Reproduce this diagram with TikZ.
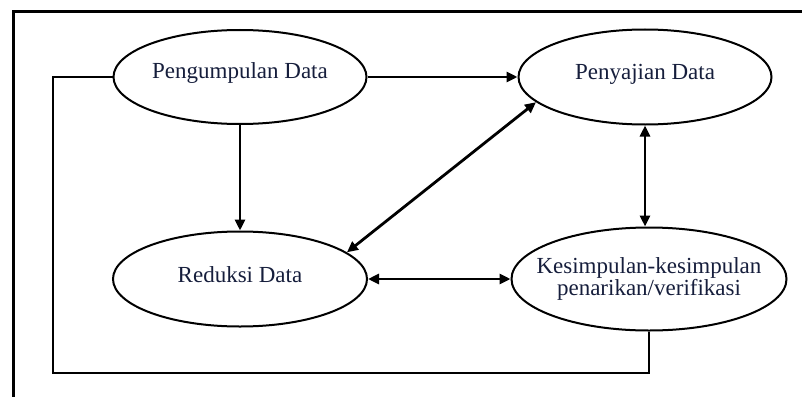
\documentclass[tikz,border=0pt]{standalone}
\usepackage{fontspec}
\setmainfont{Liberation Serif}
\usetikzlibrary{shapes.geometric,arrows.meta}
\definecolor{txtcol}{RGB}{22,30,60}
\tikzset{
  ell/.style={draw=black, line width=2pt, ellipse, inner sep=0pt},
  txt/.style={text=txtcol, font=\fontsize{23}{20}\selectfont, align=center, inner sep=0pt},
  conn/.style={line width=2.8pt},
  tip/.style={-{Triangle[length=11pt,width=10pt]}},
  tips/.style={{Triangle[length=11pt,width=10pt]}-{Triangle[length=11pt,width=10pt]}},
  frame/.style={line width=3pt, line cap=rect}
}
\begin{document}
\begin{tikzpicture}[x=1pt,y=-1pt]
\useasboundingbox (0,0) rectangle (802,396);
% outer frame (top and left only)
\coordinate (ftr) at (802,12);
\coordinate (fcorner) at (13,12);
\coordinate (fbot) at (13,396);
\draw[frame] (ftr) -- (fcorner) -- (fbot);
% ellipses
\node[ell, minimum width=253pt, minimum height=94pt] (p) at (240,77) {};
\node[txt] (pt) at (240,73) {Pengumpulan Data};
\node[ell, minimum width=253pt, minimum height=95pt] (s) at (645,77) {};
\node[txt] (st) at (645,74) {Penyajian Data};
\node[ell, minimum width=254pt, minimum height=95pt] (r) at (240,279) {};
\node[txt] (rt) at (240,275) {Reduksi Data};
\node[ell, minimum width=275pt, minimum height=103pt] (k) at (649,279) {};
\node[txt] (kt) at (649,279) {Kesimpulan-kesimpulan\\penarikan/verifikasi};
% connectors
\draw[conn,tip] (p.east) -- (s.west);
\draw[conn,tip] (p.south) -- (r.north);
\draw[conn,tips] (s.south) -- (s.south |- k.north);
\draw[conn,tips] (s.193.5) -- (r.14);
\draw[conn,tips] (r.east) -- (k.west);
\coordinate (fbl) at (53,373);
\draw[conn] (p.west) -| (fbl) -| (k.south);
\end{tikzpicture}
\end{document}
